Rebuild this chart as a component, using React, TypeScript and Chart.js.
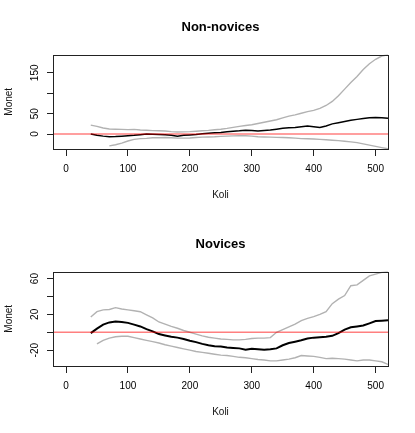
import React, { useEffect, useRef } from 'react';
import { Chart, registerables } from 'chart.js';

Chart.register(...registerables);

// ---- data ----
const xValues = [40, 50, 60, 70, 80, 90, 100, 110, 120, 130, 140, 150, 160, 170, 180, 190, 200, 210, 220, 230, 240, 250, 260, 270, 280, 290, 300, 310, 320, 330, 340, 350, 360, 370, 380, 390, 400, 410, 420, 430, 440, 450, 460, 470, 480, 490, 500, 510, 520];

const nonNoviceMean = [0, -3, -5, -6.5, -6, -5, -4, -3, -1.5, 0, -0.5, -1, -1.5, -3, -5, -3, -2, -1, 1, 2, 3, 4, 5.5, 7, 8, 9.5, 9, 7.5, 9, 10, 12, 14, 15.5, 16, 18, 19.5, 18, 16, 20, 25, 28, 31, 34, 36, 38, 40, 40.5, 40, 39];
const nonNoviceUpper = [22, 19, 15, 12.5, 12, 11.5, 11, 11.5, 10, 9.5, 8.5, 8, 7.5, 6, 5, 5.5, 6, 7, 8, 9, 10.5, 12, 14, 16.5, 19, 21, 23, 26, 29, 32, 35, 39.5, 44, 47, 51, 55, 58, 63, 70, 80, 94, 110, 126, 141, 158, 172, 183, 191, 194];
const nonNoviceLower = [null, null, null, -29, -26, -22, -17, -13, -11, -10.5, -9, -9, -8.5, -9, -10, -10, -9.5, -8.5, -7.5, -7, -6.5, -5.5, -5, -4.5, -4, -4, -5, -6.5, -7, -7.5, -8, -8.5, -9, -10, -11, -11.5, -12, -13, -14, -15, -16, -17.5, -19, -21, -24, -27, -30, -33, -36];

const noviceMean = [-1, 4, 8.5, 11, 12, 11.5, 10.5, 8.5, 6.5, 3.5, 1, -2, -3.5, -5, -6, -7.5, -9.5, -11, -13, -14.5, -15.5, -16, -17, -17.5, -18, -19.5, -18.5, -19, -19.5, -19, -18, -14.5, -12, -10.5, -9, -7, -6, -5.5, -5, -4, -1, 3, 5.5, 6.5, 7.5, 10, 12.5, 13, 13.5];
const noviceUpper = [17, 23, 25, 25.5, 27.5, 26, 25, 24, 23, 19.5, 16, 11.5, 9, 6.5, 4.5, 2, 0, -2, -4, -5.5, -6.5, -7.5, -8, -8.5, -8.5, -8, -7, -6.5, -6.5, -6, 0, 3, 6, 9, 13, 15.5, 17.5, 20, 23, 32, 37, 41, 52, 53, 58, 63, 65, 67, 68];
const noviceLower = [null, -13, -9, -6.5, -5, -4.5, -4.5, -6, -7.5, -9, -10.5, -12, -14, -15.5, -17, -18.5, -20, -21.5, -22.5, -23.5, -24.5, -25.5, -26, -27, -28, -28.5, -29.5, -30.5, -31, -32, -32, -31, -30, -28.5, -26, -26.5, -27, -28, -29.5, -29, -29.5, -30, -31, -32, -31, -31, -32, -33, -36];

const referenceY = [0, 0];

const xRange = [-21, 520];
const xTicks = [0, 100, 200, 300, 400, 500];
const xTickLabels = ['0', '100', '200', '300', '400', '500'];

const yRange1 = [-36.5, 194.5];
const yTicks1 = [0, 50, 100, 150];
const yTickLabels1 = ['0', '50', '', '150'];

const yRange2 = [-37.7, 67.8];
const yTicks2 = [-20, 0, 20, 40, 60];
const yTickLabels2 = ['-20', '', '20', '', '60'];

const FONT = '"Liberation Sans", Arial, Helvetica, sans-serif';

const rAxesPlugin = {
  id: 'rAxes',
  afterDraw(chart: any, _args: any, opts: any) {
    const { ctx, chartArea: a, scales } = chart;
    ctx.save();
    ctx.strokeStyle = '#222';
    ctx.lineWidth = 1;
    ctx.strokeRect(Math.round(a.left) + 0.5, Math.round(a.top) + 0.5, Math.round(a.right - a.left), Math.round(a.bottom - a.top));
    const ys = scales.y;
    ctx.font = '10px ' + FONT;
    ctx.fillStyle = '#000';
    ctx.textAlign = 'center';
    ctx.textBaseline = 'middle';
    (opts.values || []).forEach((v: number, i: number) => {
      const lab = opts.labels[i];
      if (!lab) return;
      const py = ys.getPixelForValue(v);
      ctx.save();
      ctx.translate(a.left - 18, py);
      ctx.rotate(-Math.PI / 2);
      ctx.fillText(lab, 0, 0);
      ctx.restore();
    });
    ctx.restore();
  },
};

const toPoints = (ys: (number | null)[]) =>
  xValues.map((x, i) => ({ x, y: ys[i] })).filter((p) => p.y !== null);

type PanelProps = {
  title: string;
  mean: number[];
  upper: number[];
  lower: (number | null)[];
  yRange: number[];
  yTicks: number[];
  yTickLabels: string[];
  meanWidth: number;
  top: number;
};

function Panel(props: PanelProps) {
  const ref = useRef<HTMLCanvasElement | null>(null);
  useEffect(() => {
    if (!ref.current) return;
    const gray = '#b2b2b2';
    const chart = new Chart(ref.current, {
      type: 'line',
      data: {
        datasets: [
          {
            data: xRange.map((x, i) => ({ x, y: referenceY[i] })),
            borderColor: 'rgba(255,0,0,0.5)',
            borderWidth: 1.5,
            pointRadius: 0,
            order: 0,
          },
          {
            data: toPoints(props.mean),
            borderColor: '#000',
            borderWidth: props.meanWidth,
            pointRadius: 0,
            order: 1,
          },
          {
            data: toPoints(props.upper),
            borderColor: gray,
            borderWidth: 1.4,
            pointRadius: 0,
            order: 2,
          },
          {
            data: toPoints(props.lower),
            borderColor: gray,
            borderWidth: 1.4,
            pointRadius: 0,
            order: 2,
          },
        ] as any,
      },
      options: {
        animation: false,
        responsive: false,
        devicePixelRatio: 1,
        parsing: true,
        layout: { padding: { left: 0, right: 27, top: 0, bottom: 0 } },
        elements: { line: { tension: 0 } },
        plugins: {
          legend: { display: false },
          tooltip: { enabled: false },
          title: {
            display: true,
            text: props.title,
            fullSize: false,
            color: '#000',
            font: { family: FONT, size: 13, weight: 'bold', lineHeight: 1.2 },
            padding: { top: 19.5, bottom: 19.5 },
          },
          rAxes: { values: props.yTicks, labels: props.yTickLabels },
        } as any,
        scales: {
          x: {
            type: 'linear',
            min: xRange[0],
            max: xRange[1],
            afterBuildTicks: (s: any) => {
              s.ticks = xTicks.map((v) => ({ value: v }));
            },
            afterFit: (s: any) => {
              s.height = 67;
            },
            ticks: {
              color: '#000',
              font: { family: FONT, size: 10, lineHeight: 1.2 },
              padding: 7,
              maxRotation: 0,
              autoSkip: false,
              callback: (v: any) => {
                const i = xTicks.indexOf(Number(v));
                return i >= 0 ? xTickLabels[i] : '';
              },
            },
            grid: { drawOnChartArea: false, drawTicks: true, tickLength: 7, color: '#222' },
            border: { display: false },
            title: {
              display: true,
              text: 'Koli',
              color: '#111',
              font: { family: FONT, size: 10, lineHeight: 1.2 },
              padding: { top: 0, bottom: 15 },
            },
          },
          y: {
            type: 'linear',
            min: props.yRange[0],
            max: props.yRange[1],
            afterBuildTicks: (s: any) => {
              s.ticks = props.yTicks.map((v) => ({ value: v }));
            },
            afterFit: (s: any) => {
              s.width = 53;
            },
            ticks: { display: false },
            grid: { drawOnChartArea: false, drawTicks: true, tickLength: 6, color: '#222' },
            border: { display: false },
            title: {
              display: true,
              text: 'Monet',
              color: '#111',
              font: { family: FONT, size: 10, lineHeight: 1.2 },
              padding: { top: 3, bottom: 0 },
            },
          },
        } as any,
      },
      plugins: [rAxesPlugin as any],
    });
    return () => chart.destroy();
  }, []);
  return (
    <canvas
      ref={ref}
      width={415}
      height={216}
      style={{ position: 'absolute', left: 0, top: props.top, width: 415, height: 216, display: 'block' }}
    />
  );
}

export default function App() {
  return (
    <div style={{ position: 'absolute', left: 0, top: 0, width: 415, height: 433, background: '#fff' }}>
      <Panel
        title="Non-novices"
        mean={nonNoviceMean}
        upper={nonNoviceUpper}
        lower={nonNoviceLower}
        yRange={yRange1}
        yTicks={yTicks1}
        yTickLabels={yTickLabels1}
        meanWidth={1.5}
        top={0}
      />
      <Panel
        title="Novices"
        mean={noviceMean}
        upper={noviceUpper}
        lower={noviceLower}
        yRange={yRange2}
        yTicks={yTicks2}
        yTickLabels={yTickLabels2}
        meanWidth={2}
        top={217}
      />
    </div>
  );
}
